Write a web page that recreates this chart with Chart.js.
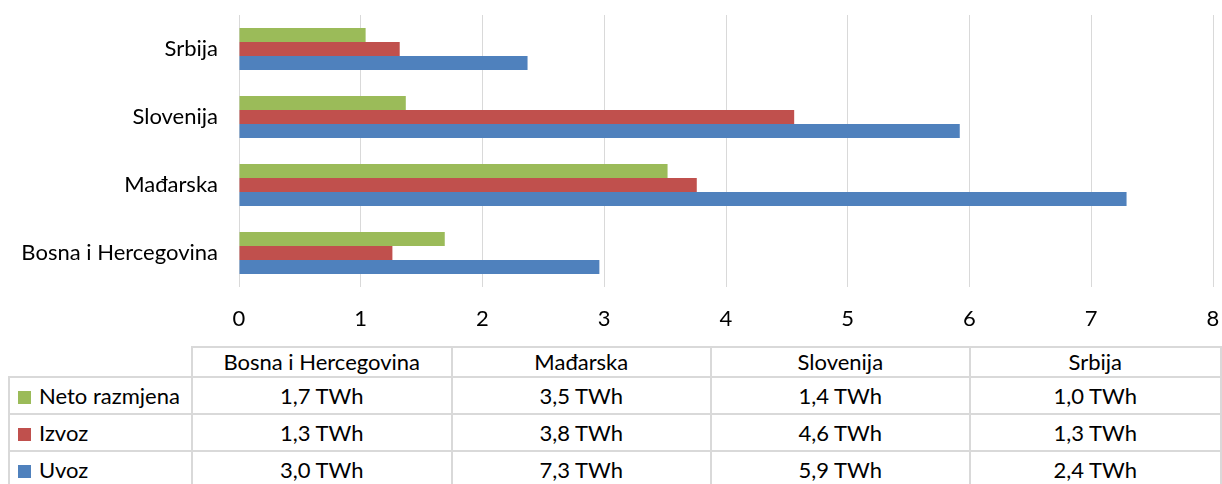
<!DOCTYPE html>
<html>
<head>
<meta charset="utf-8">
<script src="https://cdn.jsdelivr.net/npm/chart.js@4.4.1/dist/chart.umd.min.js"></script>
<style>
  body { margin: 0; background: #fff; font-family: Lato, "Open Sans", sans-serif; }
  #wrap { position: relative; width: 1222px; height: 484px; overflow: hidden; }
  #chart { position: absolute; left: 0; top: 0; }
  #dataTable {
    position: absolute; left: 8px; top: 346px;
    border-collapse: collapse; font-size: 22px; color: #000;
    table-layout: fixed;
  }
  #dataTable td { border: 2px solid #d9d9d9; padding: 0; text-align: center; height: 35px; line-height: 24px; }
  #dataTable tr.head td { height: 28px; }
  #dataTable td.corner { border-left: none; border-top: none; }
  #dataTable td.name { text-align: left; padding-left: 8px; white-space: nowrap; }
  .key { display: inline-block; width: 13px; height: 13px; margin-right: 8px; vertical-align: 0px; }
</style>
</head>
<body>
<div id="wrap">
  <canvas id="chart" width="1222" height="340"></canvas>
  <table id="dataTable"></table>
</div>
<script>
  const categories = ["Bosna i Hercegovina", "Mađarska", "Slovenija", "Srbija"];
  const seriesNames = ["Neto razmjena", "Izvoz", "Uvoz"];
  const netoValues = [1.69, 3.52, 1.37, 1.04];
  const izvozValues = [1.26, 3.76, 4.56, 1.32];
  const uvozValues = [2.96, 7.29, 5.92, 2.37];
  const xTicks = [0, 1, 2, 3, 4, 5, 6, 7, 8];
  const colors = ["#9bbb59", "#c0504d", "#4f81bd"];
  const unit = "TWh";

  const seriesValues = [netoValues, izvozValues, uvozValues];
  const tickFont = { family: "Lato, 'Open Sans', sans-serif", size: 22 };

  new Chart(document.getElementById("chart"), {
    type: "bar",
    data: {
      labels: categories,
      datasets: seriesNames.map((name, i) => ({
        label: name,
        data: seriesValues[i],
        backgroundColor: colors[i],
        borderWidth: 0,
        categoryPercentage: 0.62,
        barPercentage: 1,
      })),
    },
    options: {
      indexAxis: "y",
      responsive: false,
      animation: false,
      layout: { padding: { top: 15, right: 9, left: 0, bottom: 0 } },
      plugins: { legend: { display: false }, tooltip: { enabled: false } },
      scales: {
        x: {
          min: xTicks[0],
          max: xTicks[xTicks.length - 1],
          grid: { color: "#d9d9d9", lineWidth: 1, drawTicks: false },
          border: { display: false },
          ticks: { stepSize: 1, color: "#000", font: tickFont, padding: 19 },
          afterFit: (scale) => {
            scale.height = 53;
            scale.paddingLeft = 0;
            scale.paddingRight = 0;
          },
        },
        y: {
          reverse: true,
          grid: { display: false },
          border: { display: false },
          ticks: { color: "#000", font: tickFont, padding: 13 },
          afterFit: (scale) => {
            scale.width = 239;
            scale.paddingTop = 0;
            scale.paddingBottom = 0;
          },
        },
      },
    },
  });

  // data table under the chart
  const table = document.getElementById("dataTable");
  const colWidths = [183, 260, 260, 259, 252];
  const colgroup = document.createElement("colgroup");
  colWidths.forEach((w) => {
    const col = document.createElement("col");
    col.style.width = w + "px";
    colgroup.appendChild(col);
  });
  table.appendChild(colgroup);

  const head = document.createElement("tr");
  head.className = "head";
  head.innerHTML = `<td class="corner"></td>` + categories.map((c) => `<td>${c}</td>`).join("");
  table.appendChild(head);

  seriesNames.forEach((name, i) => {
    const row = document.createElement("tr");
    const cells = seriesValues[i]
      .map((v) => `<td>${v.toFixed(1).replace(".", ",")} ${unit}</td>`)
      .join("");
    row.innerHTML =
      `<td class="name"><span class="key" style="background:${colors[i]}"></span>${name}</td>` + cells;
    table.appendChild(row);
  });
</script>
</body>
</html>
